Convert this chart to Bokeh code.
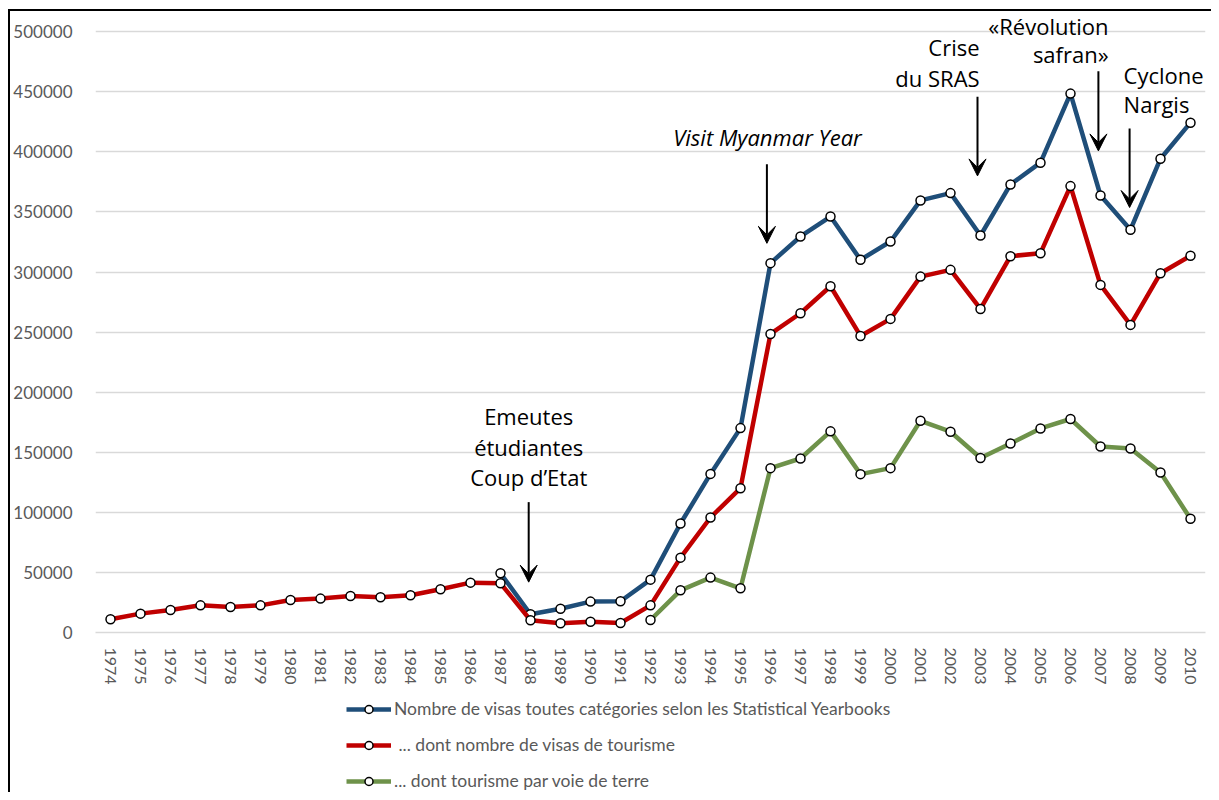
import math
from bokeh.plotting import figure
from bokeh.layouts import column
from bokeh.models import (Range1d, FixedTicker, NumeralTickFormatter, Legend, LegendItem,
                          Label, Arrow, VeeHead, ColumnDataSource)
from bokeh.embed import file_html
from bokeh.resources import INLINE

NaN = float("nan")

years = list(range(1974, 2011))

visas_total = [NaN] * 13 + [
    49300, 15200, 19800, 25700, 26000, 44000, 90700, 132000, 170100, 307400,
    329600, 346200, 310200, 325400, 359600, 365700, 330400, 372900, 391000,
    448500, 363700, 335200, 394300, 424300]

visas_tourism = [
    11000, 15700, 18700, 22600, 21200, 22600, 27000, 28200, 30400, 29300,
    31000, 36000, 41500, 41000, 10200, 7700, 9000, 7900, 22600, 62300,
    95700, 120100, 248500, 265700, 288200, 246800, 261000, 296200, 301800,
    269300, 313200, 315700, 371500, 289300, 256000, 299000, 313500]

tourism_land = [NaN] * 18 + [
    10400, 35100, 45700, 36800, 136800, 144800, 167400, 131800, 136800,
    176200, 167100, 145200, 157300, 169800, 177700, 154800, 153200, 133200, 94600]

series_labels = [
    "Nombre de visas toutes catégories selon les Statistical Yearbooks",
    " ... dont nombre de visas de tourisme",
    "... dont tourisme par voie de terre",
]
series_colors = ["#1f4e79", "#c00000", "#6e924a"]

y_ticks = list(range(0, 500001, 50000))

# annotations: (x, y, text, align, italic)
annot_texts = [
    (1987.94, 179900, "Emeutes", "center", False),
    (1987.94, 154100, "étudiantes", "center", False),
    (1987.94, 129100, "Coup d’Etat", "center", False),
    (1995.9, 412200, "Visit Myanmar Year", "center", True),
    (2002.97, 487200, "Crise", "right", False),
    (2002.97, 461600, "du SRAS", "right", False),
    (2007.27, 505000, "«Révolution", "right", False),
    (2007.27, 481800, "safran»", "right", False),
    (2007.77, 464400, "Cyclone", "left", False),
    (2007.77, 439500, "Nargis", "left", False),
]
# arrows: (x, y_start, y_end)
annot_arrows = [
    (1987.94, 108500, 41900),
    (1995.88, 389700, 323900),
    (2002.9, 445800, 380000),
    (2006.93, 467200, 400800),
    (2007.97, 419500, 353700),
]

p = figure(frame_width=1110, frame_height=620,
           x_range=Range1d(1973.5, 2010.5), y_range=Range1d(0, 516000),
           output_backend="svg", toolbar_location=None,
           min_border_left=84, min_border_right=6, min_border_top=1, min_border_bottom=60,
           background_fill_color="white", border_fill_color="white")
p.outline_line_color = None

# axes
p.yaxis.ticker = FixedTicker(ticks=y_ticks)
p.yaxis.formatter = NumeralTickFormatter(format="0")
p.yaxis.axis_line_color = None
p.yaxis.major_tick_line_color = None
p.yaxis.minor_tick_line_color = None
p.yaxis.major_label_standoff = 17
p.yaxis.major_label_text_font = "Lato"
p.yaxis.major_label_text_font_size = "17px"
p.yaxis.major_label_text_color = "#595959"

p.xaxis.ticker = FixedTicker(ticks=years)
p.xaxis.major_label_orientation = "vertical"
p.xaxis.axis_line_color = "#d9d9d9"
p.xaxis.axis_line_width = 1.5
p.xaxis.major_tick_line_color = None
p.xaxis.minor_tick_line_color = None
p.xaxis.major_label_standoff = 9
p.xaxis.major_label_text_font = "Lato"
p.xaxis.major_label_text_font_size = "16px"
p.xaxis.major_label_text_color = "#595959"

p.xgrid.grid_line_color = None
p.ygrid.grid_line_color = "#d9d9d9"
p.ygrid.grid_line_width = 1.5

src = ColumnDataSource(dict(year=years, total=visas_total, tourism=visas_tourism, land=tourism_land))

for col, color in zip(["total", "tourism", "land"], series_colors):
    p.line("year", col, source=src, line_color=color, line_width=4.5)
    p.scatter("year", col, source=src, marker="circle", size=9,
              fill_color="white", line_color="black", line_width=1.5)

for x, y, t, align, italic in annot_texts:
    p.add_layout(Label(x=x, y=y, text=t, text_align=align, text_baseline="alphabetic",
                       text_font="Open Sans", text_font_size="22px", text_color="black",
                       text_font_style="italic" if italic else "normal"))

for x, y0, y1 in annot_arrows:
    p.add_layout(Arrow(end=VeeHead(size=17, fill_color="black", line_color="black"),
                       x_start=x, y_start=y0, x_end=x, y_end=y1,
                       line_color="black", line_width=2))

# legend panel (separate figure below the chart; its ranges keep the series out of view)
lf = figure(frame_width=1110, frame_height=100,
            x_range=Range1d(0, 1), y_range=Range1d(0, 1),
            output_backend="svg", toolbar_location=None,
            min_border_left=84, min_border_right=6, min_border_top=0, min_border_bottom=0,
            background_fill_color="white", border_fill_color="white")
lf.outline_line_color = None
lf.axis.visible = False
lf.grid.visible = False
items = []
for col, color, label in zip(["total", "tourism", "land"], series_colors, series_labels):
    lr = lf.line("year", col, source=src, line_color=color, line_width=4.5)
    sr = lf.scatter("year", col, source=src, marker="circle", size=9,
                    fill_color="white", line_color="black", line_width=1.5)
    items.append(LegendItem(label=label, renderers=[lr, sr]))

legend = Legend(items=items, location=(251, 1), orientation="vertical",
                glyph_width=45, glyph_height=20, label_height=20, spacing=15,
                padding=0, margin=0, border_line_color=None, background_fill_alpha=0,
                label_text_font="Lato", label_text_font_size="17.5px",
                label_text_color="#595959", label_standoff=3)
lf.add_layout(legend, "center")

layout = column(p, lf, spacing=0,
                styles={"border-left": "2px solid black", "border-top": "2px solid black",
                        "margin-left": "8px", "margin-top": "9px"})

open("out.html", "w").write(file_html(layout, INLINE))
